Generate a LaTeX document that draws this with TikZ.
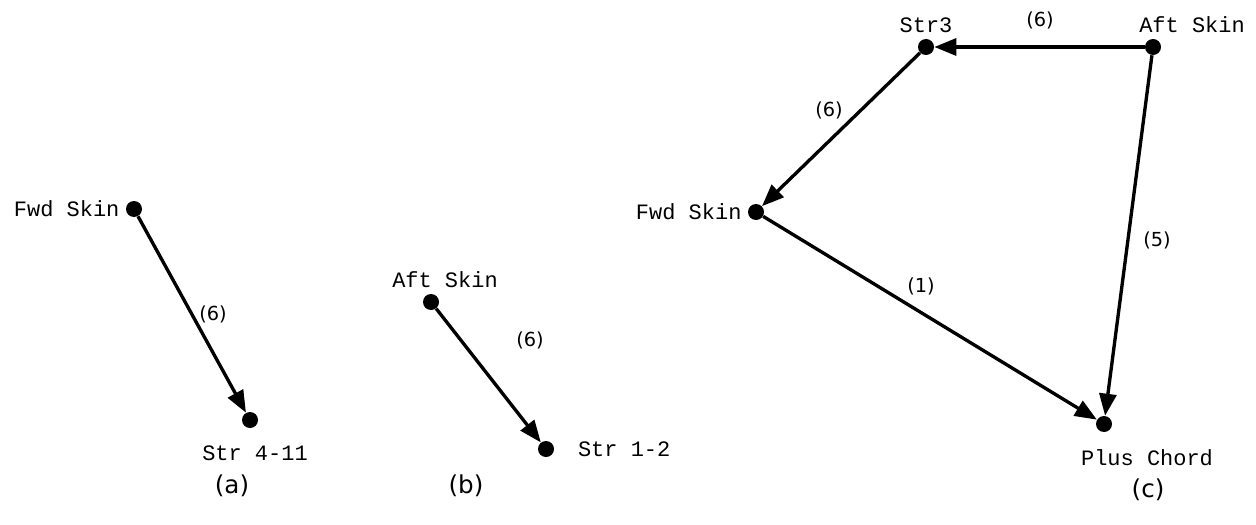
\documentclass[tikz,border=0pt]{standalone}
\usepackage{fontspec}
\setmonofont{Liberation Mono}
\setsansfont{DejaVu Sans}
\usetikzlibrary{arrows.meta}

\tikzset{
  dot/.style={circle,fill=black,inner sep=0pt,minimum size=0.32cm},
  tag/.style={font=\ttfamily\fontsize{12.5}{14}\selectfont},
  wt/.style={font=\sffamily\fontsize{11}{13}\selectfont},
  panel/.style={font=\sffamily\fontsize{14}{16}\selectfont},
  link/.style={line width=1.9pt,-{Triangle[length=0.44cm,width=0.34cm]}}
}

\begin{document}
\begin{tikzpicture}
                \useasboundingbox (0,0) rectangle (25.12,-10.48);
                % (a)
                \node[dot,label={[tag]left:Fwd Skin}] (FwdA) at (2.68,-4.18) {};
                \node[dot,label={[tag,label distance=0.22cm,xshift=0.1cm]below:Str 4-11}] (StrA) at (5.0,-8.4) {};
                \draw[link] (FwdA) -- (StrA);
                \node[wt] (wA) at (4.26,-6.28) {(6)};
                \node[panel] (capA) at (4.64,-9.72) {(a)};
                % (b)
                \node[dot,label={[tag,xshift=0.28cm]above:Aft Skin}] (AftB) at (8.62,-6.04) {};
                \node[dot,label={[tag,label distance=0.35cm]right:Str 1-2}] (StrB) at (10.92,-8.98) {};
                \draw[link] (AftB) -- (StrB);
                \node[wt] (wB) at (10.6,-6.8) {(6)};
                \node[panel] (capB) at (9.32,-9.72) {(b)};
                % (c)
                \node[dot,label={[tag]above:Str3}] (StrC) at (18.52,-0.94) {};
                \node[dot,label={[tag,xshift=0.78cm]above:Aft Skin}] (AftC) at (23.06,-0.94) {};
                \node[dot,label={[tag]left:Fwd Skin}] (FwdC) at (15.12,-4.24) {};
                \node[dot,label={[tag,label distance=0.22cm,xshift=0.86cm]below:Plus Chord}] (PlusC) at (22.08,-8.48) {};
                \draw[link] (AftC) -- (StrC);
                \draw[link] (StrC) -- (FwdC);
                \draw[link] (FwdC) -- (PlusC);
                \draw[link] (AftC) -- (PlusC);
                \node[wt] (wC1) at (20.8,-0.4) {(6)};
                \node[wt] (wC2) at (16.58,-2.2) {(6)};
                \node[wt] (wC3) at (23.14,-4.8) {(5)};
                \node[wt] (wC4) at (18.42,-5.72) {(1)};
                \node[panel] (capC) at (22.96,-9.8) {(c)};
\end{tikzpicture}
\end{document}
